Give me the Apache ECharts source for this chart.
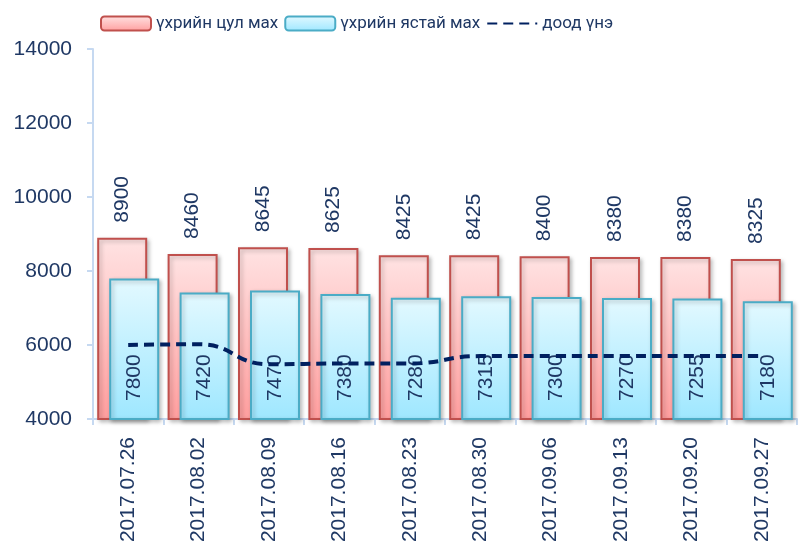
<!DOCTYPE html>
<html>
<head>
<meta charset="utf-8">
<script src="https://cdn.jsdelivr.net/npm/echarts@6/dist/echarts.min.js"></script>
<style>
  html, body { margin: 0; padding: 0; background: #fff; }
  #chart { width: 807px; height: 542px; }
</style>
</head>
<body>
<div id="chart"></div>
<script>
// 日期
var categories = ['2017.07.26', '2017.08.02', '2017.08.09', '2017.08.16', '2017.08.23',
  '2017.08.30', '2017.09.06', '2017.09.13', '2017.09.20', '2017.09.27'];
// үхрийн цул мах
var tsulMakh = [8900, 8460, 8645, 8625, 8425, 8425, 8400, 8380, 8380, 8325];
// үхрийн ястай мах
var yastaiMakh = [7800, 7420, 7470, 7380, 7280, 7315, 7300, 7270, 7255, 7180];
// доод үнэ
var doodUne = [6000, 6020, 5480, 5500, 5500, 5700, 5700, 5700, 5700, 5700];
var yTicks = [4000, 6000, 8000, 10000, 12000, 14000];

var textColor = '#1F3864';
var fontFamily = '"Liberation Sans", sans-serif';

var myChart = echarts.init(document.getElementById('chart'));

var option = {
  animation: false,
  textStyle: { fontFamily: fontFamily },
  grid: { left: 93, right: 10, top: 49, bottom: 123, outerBoundsMode: 'none', containLabel: false },
  legend: {
    top: 10,
    left: 95,
    itemWidth: 50,
    itemHeight: 14,
    itemGap: 6,
    textStyle: { fontSize: 17, color: textColor, fontFamily: 'Roboto, sans-serif' },
    data: [
      'үхрийн цул мах',
      'үхрийн ястай мах',
      { name: 'доод үнэ', itemStyle: { opacity: 0 } },
    ],
  },
  xAxis: {
    type: 'category',
    data: categories,
    axisLine: { lineStyle: { color: '#C6D9F1', width: 2 } },
    axisTick: { show: true, length: 6, lineStyle: { color: '#C6D9F1', width: 2 } },
    axisLabel: {
      rotate: 90,
      interval: 0,
      margin: 18,
      fontSize: 21,
      color: textColor,
    },
  },
  yAxis: {
    type: 'value',
    min: yTicks[0],
    max: yTicks[yTicks.length - 1],
    interval: 2000,
    axisLine: { show: true, lineStyle: { color: '#C6D9F1', width: 2 } },
    axisTick: { show: true, length: 6, lineStyle: { color: '#C6D9F1', width: 2 } },
    axisLabel: {
      fontSize: 21,
      color: textColor,
      margin: 21,
      formatter: function (v) {
        return String(v);
      },
    },
    splitLine: { show: false },
  },
  series: [
    {
      name: 'үхрийн цул мах',
      type: 'bar',
      data: tsulMakh,
      barWidth: 50,
      barGap: '-76%',
      itemStyle: {
        color: new echarts.graphic.LinearGradient(0, 0, 0, 1, [
          { offset: 0, color: '#FFE3E3' },
          { offset: 1, color: '#FF9E9E' },
        ]),
        borderColor: '#C0504D',
        borderWidth: 2,
        shadowColor: 'rgba(0,0,0,0.25)',
        shadowBlur: 4,
        shadowOffsetX: 2,
        shadowOffsetY: 2,
      },
      label: {
        show: true,
        position: 'top',
        rotate: 90,
        align: 'left',
        verticalAlign: 'middle',
        distance: 15,
        fontSize: 21,
        color: textColor,
      },
    },
    {
      name: 'үхрийн ястай мах',
      type: 'bar',
      data: yastaiMakh,
      barWidth: 50,
      itemStyle: {
        color: new echarts.graphic.LinearGradient(0, 0, 0, 1, [
          { offset: 0, color: '#E3F9FF' },
          { offset: 1, color: '#9EE7FF' },
        ]),
        borderColor: '#4BACC6',
        borderWidth: 2,
        shadowColor: 'rgba(0,0,0,0.25)',
        shadowBlur: 4,
        shadowOffsetX: 2,
        shadowOffsetY: 2,
      },
      label: {
        show: true,
        position: 'insideBottom',
        rotate: 90,
        align: 'left',
        verticalAlign: 'middle',
        distance: 19,
        fontSize: 21,
        color: textColor,
      },
    },
    {
      name: 'доод үнэ',
      type: 'line',
      data: doodUne,
      smooth: true,
      symbol: 'none',
      z: 5,
      lineStyle: { color: '#002060', width: 4, type: [10, 6] },
      itemStyle: { color: '#002060' },
    },
  ],
};

myChart.setOption(option);
</script>
</body>
</html>
